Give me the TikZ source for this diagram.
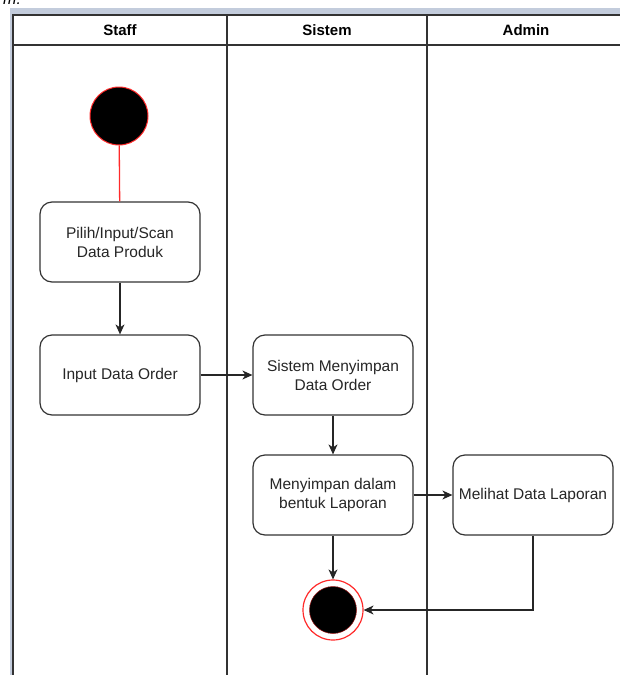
\documentclass[tikz,border=0pt]{standalone}
\usepackage{fontspec}
\setmainfont{Liberation Sans}
\usetikzlibrary{arrows.meta,positioning}
\definecolor{framebg}{HTML}{C3CCDC}
\definecolor{lineclr}{HTML}{333333}
\definecolor{startred}{HTML}{FF2A2A}
\begin{document}
\begin{tikzpicture}[x=1pt,y=-1pt,
  action/.style={draw=lineclr,line width=1.2pt,rounded corners=12pt,fill=white,
    minimum width=160pt,minimum height=80pt,align=center,inner sep=2pt,
    font=\fontsize{15.5}{19}\selectfont,text=black!85},
  flow/.style={draw=black!85,line width=1.2pt,-{Stealth[length=10pt,width=9pt,inset=3pt]}},
  lanehead/.style={font=\fontsize{15}{18}\selectfont\bfseries},
  lane/.style={draw=lineclr,line width=1.3pt}]
\useasboundingbox (0,0) rectangle (620,675);
\begin{scope}
\clip (0,0) rectangle (620,675);
% window frame strip
\fill[framebg] (10,8) rectangle (625,15);
\fill[framebg] (10,8) rectangle (13,680);
\node[anchor=south west,inner sep=0pt,font=\itshape\fontsize{16}{18}\selectfont] (caption) at (3,5) {m:};
% swimlane pool
\draw[lane,line width=2pt] (13,680) -- (13,15) -- (625,15);
\draw[lane,line width=1.6pt] (13,45) -- (625,45);
\draw[lane] (227,15) -- (227,680);
\draw[lane] (427,15) -- (427,680);
\node[lanehead] (hstaff) at (120,30) {Staff};
\node[lanehead] (hsistem) at (327,30) {Sistem};
\node[lanehead] (hadmin) at (526,30) {Admin};
% start and actions
\node[circle,fill=black,draw=startred,line width=1pt,minimum size=58pt,inner sep=0pt] (start) at (119,116) {};
\node[action] (pilih) at (120,242) {Pilih/Input/Scan\\Data Produk};
\node[action] (order) at (120,375) {Input Data Order};
\node[action] (simpan) at (333,375) {Sistem Menyimpan\\Data Order};
\node[action] (laporan) at (333,495) {Menyimpan dalam\\bentuk Laporan};
\node[action,inner sep=0pt] (lihat) at (533,495) {Melihat Data Laporan};
% final node
\node[circle,fill=white,draw=startred,line width=1.2pt,minimum size=60pt,inner sep=0pt] (final) at (333,610) {};
\node[circle,fill=black,draw=startred!60!black,line width=0.5pt,minimum size=47pt,inner sep=0pt] (finalin) at (333,610) {};
% connectors
\draw[startred,line width=1.3pt] (start) -- (pilih);
\draw[flow] (pilih) -- (order);
\draw[flow] (order) -- (simpan);
\draw[flow] (simpan) -- (laporan);
\draw[flow] (laporan) -- (lihat);
\draw[flow] (laporan) -- (final);
\draw[flow] (lihat.south) |- (final.east);
\end{scope}
\end{tikzpicture}
\end{document}
